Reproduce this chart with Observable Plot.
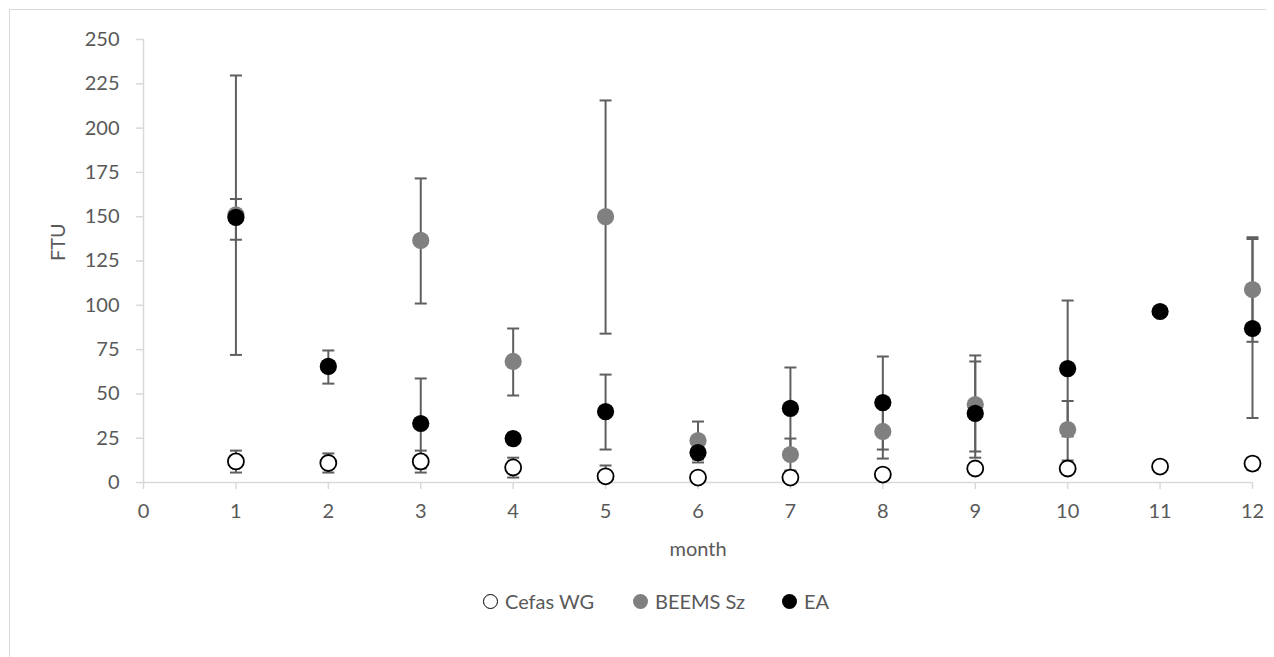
<!DOCTYPE html>
<html>
<head>
<meta charset="utf-8">
<script src="https://cdn.jsdelivr.net/npm/d3@7"></script>
<script src="https://cdn.jsdelivr.net/npm/@observablehq/plot@0.6"></script>
<style>
  html, body { margin: 0; padding: 0; background: #fff; }
  #wrap { position: relative; width: 1274px; height: 657px; overflow: hidden; font-family: Lato, sans-serif; }
  #frame { position: absolute; left: 9px; top: 9px; width: 1257px; height: 700px; border-top: 1.5px solid #d9d9d9; border-left: 1.5px solid #d9d9d9; box-sizing: border-box; }
  #chart { position: absolute; left: 0; top: 0; }
  #chart svg [aria-label="x-axis tick label"], #chart svg [aria-label="y-axis tick label"] { fill: #595959; }
  #legend { position: absolute; left: 0; top: 588px; width: 1274px; height: 26px; font-size: 20px; color: #595959; }
  .item { position: absolute; top: 0; height: 26px; display: flex; align-items: center; white-space: nowrap; }
  .sw { display: inline-block; width: 15px; height: 15px; border-radius: 50%; box-sizing: border-box; margin-right: 7px; }
</style>
</head>
<body>
<div id="wrap">
  <div id="frame"></div>
  <div id="chart"></div>
  <div id="legend"></div>
</div>
<script>
// ---- data ----
const months = [1, 2, 3, 4, 5, 6, 7, 8, 9, 10, 11, 12];
const seriesNames = ["Cefas WG", "BEEMS Sz", "EA"];

const cefas     = [11.9, 11.0, 11.9, 8.5, 3.5, 2.8, 2.8, 4.5, 7.9, 7.9, 9.0, 10.7];
const cefasLow  = [5.6, 5.6, 5.6, 2.8, 0.5, 1.0, 1.0, 2.0, 5.0, 5.0, 7.0, 7.0];
const cefasHigh = [18.0, 16.4, 18.0, 14.0, 9.6, 5.0, 5.0, 7.0, 11.0, 11.0, 11.0, 14.0];

const beems     = [151.0, null, 136.6, 68.3, 150.0, 23.7, 15.8, 28.8, 44.0, 29.9, null, 108.9];
const beemsLow  = [72.0, null, 101.0, 49.1, 84.0, 13.0, 6.8, 13.5, 17.5, 12.4, null, 79.4];
const beemsHigh = [229.7, null, 171.6, 86.9, 215.6, 34.4, 24.8, 44.1, 71.7, 46.0, null, 138.4];

const ea     = [149.6, 65.5, 33.3, 24.8, 40.0, 16.9, 41.8, 45.1, 39.0, 64.3, 96.5, 86.9];
const eaLow  = [137.0, 55.8, 7.9, 22.0, 18.6, 11.3, 18.7, 18.6, 14.0, 26.0, null, 36.4];
const eaHigh = [160.0, 74.5, 58.7, 27.0, 60.9, 22.5, 64.9, 71.1, 68.3, 102.7, null, 137.4];

const xTicks = [0, 1, 2, 3, 4, 5, 6, 7, 8, 9, 10, 11, 12];
const yTicks = [0, 25, 50, 75, 100, 125, 150, 175, 200, 225, 250];
const xTitle = "month";
const yTitle = "FTU";

// ---- build tables ----
function table(vals, lows, highs, name) {
  return months.map((m, i) => ({month: m, value: vals[i], low: lows[i], high: highs[i], series: name}))
    .filter(d => d.value != null);
}
const tCefas = table(cefas, cefasLow, cefasHigh, seriesNames[0]);
const tBeems = table(beems, beemsLow, beemsHigh, seriesNames[1]);
const tEa = table(ea, eaLow, eaHigh, seriesNames[2]);
const errRows = [...tCefas, ...tBeems, ...tEa].filter(d => d.low != null && d.high != null);
const capRows = errRows.flatMap(d => [{month: d.month, y: d.low}, {month: d.month, y: d.high}]);

const capSymbol = { draw(ctx) { ctx.moveTo(-6, 0); ctx.lineTo(6, 0); } };
const errColor = "#5f5f5f";

const plot = Plot.plot({
  width: 1274,
  height: 570,
  marginLeft: 143,
  marginRight: 22,
  marginTop: 39,
  marginBottom: 88,
  style: { fontFamily: "Lato, sans-serif", fontSize: "20px", background: "transparent", overflow: "visible" },
  x: { domain: [0, 12] },
  y: { domain: [0, 250] },
  marks: [
    Plot.ruleX([0], { stroke: "#d9d9d9", strokeWidth: 1.5 }),
    Plot.ruleY([0], { stroke: "#d9d9d9", strokeWidth: 1.5 }),
    Plot.axisX({ ticks: xTicks, tickSize: 7, tickPadding: 14, stroke: "#d9d9d9", strokeWidth: 1.5, fill: "#595959", label: null, tickFormat: d => String(d) }),
    Plot.axisY({ ticks: yTicks, tickSize: 7, tickPadding: 17, stroke: "#d9d9d9", strokeWidth: 1.5, fill: "#595959", label: null, tickFormat: d => String(d) }),
    Plot.text([xTitle], { frameAnchor: "bottom", dy: 67, text: d => d, fill: "#595959", fontSize: 20, lineAnchor: "middle" }),
    Plot.text([yTitle], { frameAnchor: "left", dx: -85, text: d => d, fill: "#595959", fontSize: 20, rotate: -90, lineAnchor: "middle" }),
    Plot.ruleX(errRows, { x: "month", y1: "low", y2: "high", stroke: errColor, strokeWidth: 2 }),
    Plot.dot(capRows, { x: "month", y: "y", symbol: capSymbol, r: 5, fill: "none", stroke: errColor, strokeWidth: 2 }),
    Plot.dot(tCefas, { x: "month", y: "value", r: 8, fill: "white", stroke: "black", strokeWidth: 1.8 }),
    Plot.dot(tBeems, { x: "month", y: "value", r: 8.6, fill: "#808080", stroke: "none" }),
    Plot.dot(tEa, { x: "month", y: "value", r: 8.6, fill: "black", stroke: "none" })
  ]
});
document.getElementById("chart").appendChild(plot);

// ---- legend ----
const legendStyles = [
  { bg: "#fff", border: "1.8px solid #000", left: 483 },
  { bg: "#808080", border: "none", left: 633 },
  { bg: "#000", border: "none", left: 782 }
];
const legend = document.getElementById("legend");
seriesNames.forEach((name, i) => {
  const s = legendStyles[i];
  const item = document.createElement("div");
  item.className = "item";
  item.style.left = s.left + "px";
  const sw = document.createElement("span");
  sw.className = "sw";
  sw.style.background = s.bg;
  sw.style.border = s.border;
  const tx = document.createElement("span");
  tx.textContent = name;
  item.appendChild(sw);
  item.appendChild(tx);
  legend.appendChild(item);
});
</script>
</body>
</html>
